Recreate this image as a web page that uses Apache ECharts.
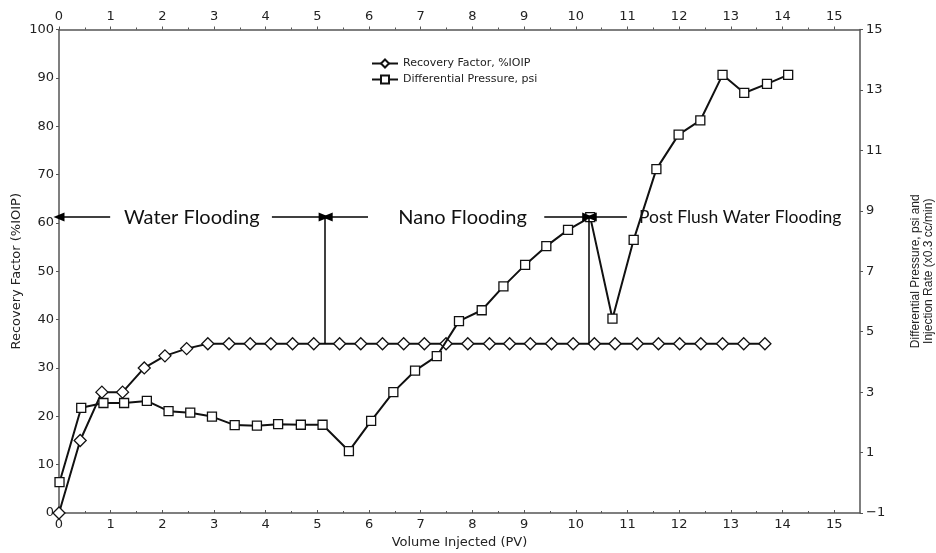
<!DOCTYPE html>
<html>
<head>
<meta charset="utf-8">
<script src="https://cdn.jsdelivr.net/npm/echarts@6/dist/echarts.min.js"></script>
<style>html,body{margin:0;padding:0;background:#fff;}#c{width:936px;height:553px;}</style>
</head>
<body>
<div id="c"></div>
<script>
// ---- data ----
const rfX = [0, 0.41, 0.83, 1.23, 1.65, 2.05, 2.47, 2.88, 3.29, 3.70, 4.10, 4.52, 4.93, 5.43, 5.84, 6.26, 6.67, 7.07, 7.49, 7.91, 8.33, 8.72, 9.12, 9.53, 9.95, 10.36, 10.76, 11.19, 11.60, 12.01, 12.42, 12.84, 13.25, 13.66];
const rfY = [0, 15, 25, 25, 30, 32.5, 34, 35, 35, 35, 35, 35, 35, 35, 35, 35, 35, 35, 35, 35, 35, 35, 35, 35, 35, 35, 35, 35, 35, 35, 35, 35, 35, 35];
const dpX = [0.01, 0.43, 0.86, 1.26, 1.70, 2.12, 2.54, 2.96, 3.40, 3.83, 4.24, 4.68, 5.10, 5.61, 6.04, 6.47, 6.89, 7.31, 7.74, 8.18, 8.60, 9.02, 9.43, 9.85, 10.28, 10.71, 11.12, 11.56, 11.99, 12.41, 12.84, 13.26, 13.70, 14.11];
const dpY = [0.02, 2.48, 2.64, 2.64, 2.71, 2.37, 2.32, 2.19, 1.91, 1.89, 1.94, 1.92, 1.92, 1.05, 2.05, 3.00, 3.71, 4.19, 5.35, 5.71, 6.50, 7.21, 7.83, 8.37, 8.79, 5.43, 8.04, 10.38, 11.52, 11.99, 13.50, 12.90, 13.20, 13.50];
const seriesNames = ['Recovery Factor, %IOIP', 'Differential Pressure, psi'];
const xTicks = [0,1,2,3,4,5,6,7,8,9,10,11,12,13,14,15];
const rightTicks = [-1,1,3,5,7,9,11,13,15];
// annotations
const phaseLabels = ['Water Flooding', 'Nano Flooding', 'Post Flush Water Flooding'];
const phaseLabelX = [2.57, 7.81, 13.18];
const phaseBoundaries = [5.15, 10.26];
const annotationLevel = 61.2;
const plateauLevel = 35;
const arrowSegments = [[0.99, 0], [4.12, 5.13], [5.98, 5.19], [9.39, 10.23], [10.99, 10.30]];

const chart = echarts.init(document.getElementById('c'), null, {renderer: 'canvas'});
const axisFont = {fontFamily: 'DejaVu Sans', fontSize: 13, color: '#222'};
const axLine = {onZero: false, lineStyle: {color: '#555', width: 1.5}};
const tickStyle = {color: '#555', width: 1};

const markLines = [];
arrowSegments.forEach(s => markLines.push([
  {coord: [s[0], annotationLevel], symbol: 'none'},
  {coord: [s[1], annotationLevel], symbol: 'triangle', symbolSize: [9, 11]}
]));
phaseBoundaries.forEach(b => markLines.push([
  {coord: [b, annotationLevel], symbol: 'none'},
  {coord: [b, plateauLevel], symbol: 'none'}
]));

const option = {
  animation: false,
  backgroundColor: '#fff',
  grid: {left: 59, right: 76, top: 29.5, bottom: 40, containLabel: false, outerBoundsMode: 'none'},
  legend: {
    orient: 'vertical', left: 366, top: 53,
    itemWidth: 26, itemHeight: 10, itemGap: 5,
    textStyle: {fontFamily: 'DejaVu Sans', fontSize: 11, color: '#222'},
    data: seriesNames
  },
  xAxis: [{
    type: 'value', position: 'bottom', min: 0, max: 15.5, interval: 1,
    name: 'Volume Injected (PV)', nameLocation: 'middle', nameGap: 23,
    nameTextStyle: {fontFamily: 'DejaVu Sans', fontSize: 13, color: '#222'},
    axisLine: axLine,
    axisTick: {show: true, inside: true, length: 3, customValues: xTicks, lineStyle: tickStyle},
    minorTick: {show: true, splitNumber: 2, length: 2, lineStyle: tickStyle},
    axisLabel: Object.assign({margin: 5, customValues: xTicks}, axisFont),
    splitLine: {show: false}
  }, {
    type: 'value', position: 'top', min: 0, max: 15.5, interval: 1,
    axisLine: axLine,
    axisTick: {show: true, length: 3, customValues: xTicks, lineStyle: tickStyle},
    minorTick: {show: true, splitNumber: 2, length: 2, lineStyle: tickStyle},
    axisLabel: Object.assign({margin: 6, customValues: xTicks}, axisFont),
    splitLine: {show: false}
  }],
  yAxis: [{
    type: 'value', position: 'left', min: 0, max: 100, interval: 10,
    name: 'Recovery Factor (%IOIP)', nameLocation: 'middle', nameGap: 36, nameRotate: 90,
    nameMoveOverlap: false,
    nameTextStyle: {fontFamily: 'DejaVu Sans', fontSize: 13, color: '#222'},
    axisLine: axLine,
    axisTick: {show: true, length: 3, lineStyle: tickStyle},
    axisLabel: Object.assign({margin: 5}, axisFont),
    splitLine: {show: false}
  }, {
    type: 'value', position: 'right', min: -1, max: 15,
    name: 'Differential Pressure, psi and\nInjection Rate (x0.3 cc/min)',
    nameLocation: 'middle', nameGap: 49, nameRotate: 90,
    nameTextStyle: {fontFamily: 'Liberation Sans', fontSize: 12, lineHeight: 13, color: '#222', align: 'center'},
    axisLine: axLine,
    axisTick: {show: true, length: 3, customValues: rightTicks, lineStyle: tickStyle},
    axisLabel: Object.assign({margin: 6, customValues: rightTicks, formatter: v => (v < 0 ? '\u2212' + Math.abs(v) : String(v))}, axisFont),
    splitLine: {show: false}
  }],
  series: [{
    name: seriesNames[0], type: 'line', xAxisIndex: 0, yAxisIndex: 0,
    data: rfX.map((x, i) => [x, rfY[i]]),
    symbol: 'diamond', symbolSize: 12, showAllSymbol: true,
    lineStyle: {color: '#111', width: 2},
    itemStyle: {color: '#fff', borderColor: '#111', borderWidth: 1.3},
    z: 3,
    markLine: {
      silent: true, animation: false,
      symbol: ['none', 'none'],
      label: {show: false},
      lineStyle: {color: '#000', width: 1.5, type: 'solid'},
      emphasis: {disabled: true},
      data: markLines
    },
    markPoint: {
      silent: true, animation: false,
      symbol: 'rect', symbolSize: 1,
      itemStyle: {color: 'rgba(0,0,0,0)'},
      label: {show: true, position: 'inside', fontFamily: 'Lato', fontSize: 20, color: '#111',
              formatter: p => p.name},
      data: phaseLabels.map((t, i) => ({name: t, coord: [phaseLabelX[i], annotationLevel],
        label: i === 2 ? {fontSize: 17.5} : undefined}))
    }
  }, {
    name: seriesNames[1], type: 'line', xAxisIndex: 0, yAxisIndex: 1,
    data: dpX.map((x, i) => [x, dpY[i]]),
    symbol: 'rect', symbolSize: 9, showAllSymbol: true,
    lineStyle: {color: '#111', width: 2},
    itemStyle: {color: '#fff', borderColor: '#111', borderWidth: 1.3},
    z: 4
  }]
};
chart.setOption(option);
</script>
</body>
</html>
